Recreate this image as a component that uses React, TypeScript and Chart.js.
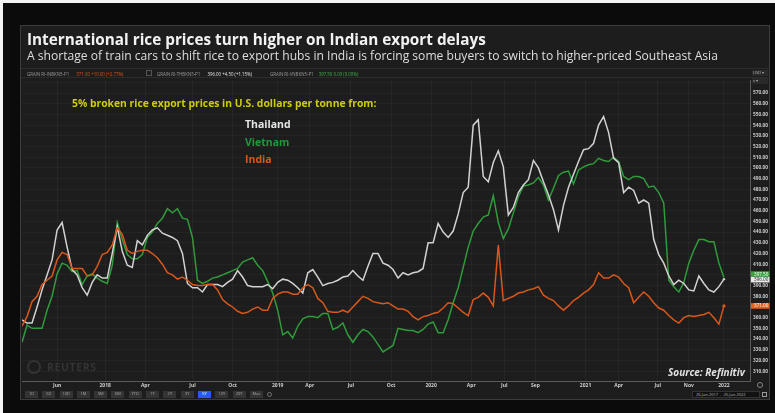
import React, { useEffect, useRef } from 'react';
import { Chart, registerables } from 'chart.js';

Chart.register(...registerables);

// Weekly-ish sampled prices (USD/tonne), Jan 2017 -> Jan 2022, index-based axis
const THAILAND: number[] = [
  358, 355, 355, 370, 386, 400, 414, 442, 449, 426,
  405, 400, 388, 381, 393, 400, 397, 397, 420, 445,
  422, 409, 407, 432, 428, 437, 442, 444, 439, 437,
  435, 432, 420, 392, 388, 388, 384, 391, 391, 391,
  389, 393, 396, 404, 398, 390, 389, 389, 389, 391,
  387, 393, 396, 395, 392, 388, 383, 402, 405, 398,
  390, 392, 393, 395, 398, 399, 404, 399, 395, 408,
  420, 420, 411, 409, 405, 397, 402, 400, 402, 403,
  406, 430, 430, 448, 440, 435, 441, 457, 477, 482,
  540, 545, 492, 487, 505, 516, 501, 456, 463, 477,
  484, 489, 507, 500, 487, 475, 461, 442, 465, 482,
  494, 506, 517, 518, 523, 540, 548, 533, 509, 505,
  477, 482, 479, 467, 470, 467, 433, 419, 411, 399,
  391, 395, 392, 386, 385, 399, 392, 386, 384, 389,
  396,
];

const VIETNAM: number[] = [
  337, 353, 350, 350, 350, 367, 380, 401, 411, 409,
  403, 404, 391, 399, 401, 397, 394, 392, 409, 449,
  433, 419, 415, 415, 419, 435, 440, 448, 453, 462,
  458, 462, 453, 452, 435, 395, 392, 394, 397, 398,
  400, 402, 404, 406, 412, 414, 416, 409, 404, 394,
  383, 367, 344, 347, 341, 352, 359, 361, 361, 360,
  364, 364, 349, 351, 355, 344, 337, 344, 349, 347,
  342, 335, 328, 331, 334, 350, 349, 348, 348, 346,
  349, 354, 356, 346, 346, 358, 374, 388, 407, 426,
  441, 448, 454, 456, 474, 449, 434, 443, 458, 473,
  483, 484, 486, 491, 484, 470, 481, 493, 496, 497,
  485, 498, 501, 503, 504, 509, 507, 506, 510, 506,
  492, 489, 492, 492, 490, 482, 483, 477, 467, 395,
  389, 384, 393, 411, 423, 433, 433, 431, 431, 411,
  397.5,
];

const INDIA: number[] = [
  352, 361, 375, 380, 391, 395, 399, 414, 421, 419,
  406, 406, 406, 399, 400, 408, 419, 421, 428, 444,
  438, 423, 420, 422, 423, 423, 420, 416, 410, 402,
  400, 396, 398, 395, 391, 390, 390, 391, 391, 386,
  377, 373, 370, 366, 364, 365, 368, 370, 367, 367,
  378, 382, 384, 384, 382, 382, 388, 391, 388, 378,
  374, 366, 365, 365, 367, 365, 370, 375, 380, 378,
  375, 374, 373, 374, 371, 368, 368, 366, 361, 358,
  361, 362, 364, 365, 369, 374, 373, 369, 365, 362,
  377, 379, 383, 379, 371, 428, 376, 378, 380, 383,
  384, 386, 387, 389, 381, 378, 376, 371, 367, 371,
  376, 379, 383, 386, 391, 402, 397, 397, 400, 398,
  392, 388, 374, 379, 384, 380, 374, 369, 367, 362,
  358, 355, 360, 362, 361, 362, 363, 365, 360, 354,
  371,
];

const X_TICK_POS: number[] = [7, 16.6, 24.6, 34, 42, 51, 57.4, 65.6, 73.6, 81.6, 89.6, 96.2, 102.4, 112.4, 119, 126.8, 133, 140];
const X_TICK_LABELS: string[] = ['Jun', '2018', 'Apr', 'Jul', 'Oct', '2019', 'Apr', 'Jul', 'Oct', '2020', 'Apr', 'Jul', 'Sep', '2021', 'Apr', 'Jul', 'Nov', '2022'];

const SERIES_NAMES: string[] = ['India', 'Thailand', 'Vietnam'];
const LAST_VALUES: number[] = [371.0, 396.0, 397.5];
const CHANGES: string[] = ['+10.00 (+2.77%)', '+4.50 (+1.15%)', '0.00 (0.00%)'];
const RICS: string[] = ['GRAIN RI-INBKN5-P1', 'GRAIN RI-THBKN5-P1', 'GRAIN RI-VNBKN5-P1'];

const RANGE_BUTTONS: string[] = ['1D', '5D', '10D', '1M', '3M', '6M', 'YTD', '1Y', '2Y', '3Y', '5Y', '10Y', '20Y', 'Max'];

const FONT = '"Open Sans", "Noto Sans", sans-serif';
const C_TH = '#d2d2d2';
const C_VN = '#2f9b3b';
const C_IN = '#d9571b';

const pts = (vals: number[]) => vals.map((v, i) => ({ x: i, y: v }));
const lastRadius = (vals: number[], r: number) => vals.map((_, i) => (i === vals.length - 1 ? r : 0));

export default function App() {
  const ref = useRef<HTMLCanvasElement | null>(null);

  useEffect(() => {
    if (!ref.current) return;
    const boxPlugin = {
      id: 'lastBoxes',
      afterDraw(chart: any) {
        const { ctx, chartArea, scales } = chart;
        const y = scales.y;
        const items = [
          { v: LAST_VALUES[2], off: -3.5, bg: '#3f9f3f', fg: '#ffffff' },
          { v: LAST_VALUES[1], off: 0.5, bg: '#e8e8e8', fg: '#222222' },
          { v: LAST_VALUES[0], off: 0, bg: '#e8621c', fg: '#ffffff' },
        ];
        ctx.save();
        items.forEach((it) => {
          const cy = y.getPixelForValue(it.v) + it.off;
          ctx.fillStyle = it.bg;
          ctx.fillRect(chartArea.right + 1, cy - 2.8, 18.5, 5.6);
          ctx.fillStyle = it.fg;
          ctx.font = `4.6px ${FONT}`;
          ctx.textBaseline = 'middle';
          ctx.textAlign = 'left';
          ctx.fillText(it.v.toFixed(2), chartArea.right + 4, cy + 0.2);
        });
        ctx.restore();
      },
    };

    const chart = new Chart(ref.current, {
      type: 'line',
      data: {
        datasets: [
          {
            label: SERIES_NAMES[0],
            data: pts(INDIA),
            borderColor: C_IN,
            backgroundColor: C_IN,
            borderWidth: 1.5,
            pointRadius: lastRadius(INDIA, 1.6),
            pointBorderWidth: 0,
            tension: 0,
          },
          {
            label: SERIES_NAMES[1],
            data: pts(THAILAND),
            borderColor: C_TH,
            backgroundColor: C_TH,
            borderWidth: 1.5,
            pointRadius: lastRadius(THAILAND, 1.2),
            pointBorderWidth: 0,
            tension: 0,
          },
          {
            label: SERIES_NAMES[2],
            data: pts(VIETNAM),
            borderColor: C_VN,
            backgroundColor: C_VN,
            borderWidth: 1.5,
            pointRadius: 0,
            tension: 0,
          },
        ],
      },
      options: {
        animation: false,
        responsive: false,
        maintainAspectRatio: false,
        layout: { padding: { left: 22, top: 80, right: 5, bottom: 23 } },
        plugins: { legend: { display: false }, tooltip: { enabled: false }, title: { display: false } },
        scales: {
          x: {
            type: 'linear',
            min: 0,
            max: 145.2,
            grid: { color: 'rgba(255,255,255,0.04)', drawTicks: false },
            border: { color: '#5a5a5a', width: 1 },
            afterBuildTicks: (s: any) => {
              s.ticks = X_TICK_POS.map((v) => ({ value: v }));
            },
            afterFit: (s: any) => {
              s.height = 9;
            },
            ticks: {
              autoSkip: false,
              maxRotation: 0,
              padding: 1.5,
              color: '#cfcfcf',
              font: { size: 5, family: FONT, weight: 'bold' },
              callback: (_v: any, idx: number) => X_TICK_LABELS[idx],
            },
          },
          y: {
            position: 'right',
            min: 300.8,
            max: 582.2,
            grid: { color: 'rgba(255,255,255,0.035)', drawTicks: false },
            border: { color: '#5a5a5a', width: 1 },
            afterFit: (s: any) => {
              s.width = 20;
            },
            ticks: {
              stepSize: 10,
              includeBounds: false,
              padding: 3,
              color: '#c8c8c8',
              font: { size: 4.8, family: FONT, weight: 'bold' },
              callback: (v: any) => (v < 310 || v > 570 ? '' : Number(v).toFixed(2)),
            },
          },
        },
      },
      plugins: [boxPlugin],
    } as any);
    return () => chart.destroy();
  }, []);

  const abs = (o: any) => ({ position: 'absolute' as const, whiteSpace: 'nowrap' as const, ...o });

  return (
    <div style={abs({ left: 0, top: 0, width: 775, height: 413, background: '#f4f4f4', overflow: 'hidden', fontFamily: FONT })}>
      <div style={abs({ left: 3, top: 3, width: 772, height: 410, background: '#0b0b0b' })} />
      <div style={abs({ left: 20, top: 25, width: 750, height: 375, background: '#1d1d1d', border: '1px solid #3c3c3c', boxSizing: 'border-box' })} />
      {/* header strip */}
      <div style={abs({ left: 21, top: 68, width: 748, height: 10, borderTop: '1px solid #2c2c2c', borderBottom: '1px solid #2c2c2c', boxSizing: 'border-box' })} />
      <canvas ref={ref} width={775} height={413} style={abs({ left: 0, top: 0, width: 775, height: 413 })} />

      <div style={abs({ left: 27, top: 30, fontSize: 15.3, lineHeight: '18px', fontWeight: 700, color: '#f2f2f2' })}>
        International rice prices turn higher on Indian export delays
      </div>
      <div style={abs({ left: 27, top: 49, fontSize: 12.1, lineHeight: '14px', color: '#dedede' })}>
        A shortage of train cars to shift rice to export hubs in India is forcing some buyers to switch to higher-priced Southeast Asia
      </div>

      {/* quote strip */}
      <div style={abs({ left: 27, top: 70.5, fontSize: 4.4, lineHeight: '6px', color: '#9a9a9a' })}>
        {RICS[0]} <span style={{ color: C_IN, marginLeft: 6 }}>{LAST_VALUES[0].toFixed(2)} {CHANGES[0]}</span>
      </div>
      <div style={abs({ left: 146, top: 70, width: 6, height: 6, border: '1px solid #555', boxSizing: 'border-box' })} />
      <div style={abs({ left: 157, top: 70.5, fontSize: 4.4, lineHeight: '6px', color: '#9a9a9a' })}>
        {RICS[1]} <span style={{ color: '#e6e6e6', marginLeft: 6 }}>{LAST_VALUES[1].toFixed(2)} {CHANGES[1]}</span>
      </div>
      <div style={abs({ left: 270, top: 70.5, fontSize: 4.4, lineHeight: '6px', color: '#9a9a9a' })}>
        {RICS[2]} <span style={{ color: '#3fb24a', marginLeft: 4 }}>{LAST_VALUES[2].toFixed(2)} {CHANGES[2]}</span>
      </div>
      <div style={abs({ left: 752, top: 70, width: 15, height: 6, background: '#2a2a2a', fontSize: 4.2, lineHeight: '6px', color: '#aaa', paddingLeft: 1 })}>USD ▾</div>
      <div style={abs({ left: 752, top: 78, width: 15, height: 6, background: '#2a2a2a', fontSize: 4.2, lineHeight: '6px', color: '#aaa', paddingLeft: 1 })}>x ▾</div>

      {/* annotations */}
      <div style={abs({ left: 72, top: 96.5, fontSize: 10.35, lineHeight: '12px', fontWeight: 700, color: '#cdcd0a' })}>
        5% broken rice export prices in U.S. dollars per tonne from:
      </div>
      <div style={abs({ left: 245, top: 117.5, fontSize: 10.5, lineHeight: '12px', fontWeight: 700, color: '#e6e6e6' })}>Thailand</div>
      <div style={abs({ left: 245, top: 135.5, fontSize: 10.5, lineHeight: '12px', fontWeight: 700, color: '#1e9a3a' })}>Vietnam</div>
      <div style={abs({ left: 245, top: 152.5, fontSize: 10.5, lineHeight: '12px', fontWeight: 700, color: '#d65a18' })}>India</div>

      {/* watermark */}
      <div style={abs({ left: 27, top: 360, width: 14, height: 14, borderRadius: '50%', border: '2px solid #333', boxSizing: 'border-box' })} />
      <div style={abs({ left: 47, top: 361, fontSize: 10.5, lineHeight: '12px', fontWeight: 700, color: '#343434', letterSpacing: 0.6 })}>REUTERS</div>

      <div style={abs({ left: 668, top: 366, fontSize: 10, lineHeight: '12px', fontWeight: 700, fontStyle: 'italic', color: '#e2e2e2' })}>
        Source: Refinitiv
      </div>

      {/* bottom toolbar */}
      <div style={abs({ left: 25, top: 391, display: 'flex', gap: 4.3 })}>
        {RANGE_BUTTONS.map((b) => (
          <div key={b} style={{ width: 13, height: 6.5, background: b === '5Y' ? '#2a58f5' : '#343434', color: b === '5Y' ? '#fff' : '#a8a8a8', fontSize: 4, lineHeight: '6.5px', textAlign: 'center' }}>{b}</div>
        ))}
        <div style={{ width: 5, height: 5, marginTop: 0.7, borderRadius: '50%', border: '1px solid #777', boxSizing: 'border-box' }} />
      </div>
      <div style={abs({ left: 757, top: 382, width: 6, height: 6, borderRadius: '50%', border: '1px solid #888', boxSizing: 'border-box' })} />
      <div style={abs({ left: 692, top: 391, width: 68, height: 6.5, background: '#111', border: '1px solid #333', boxSizing: 'border-box', fontSize: 4, lineHeight: '5px', color: '#bbb', paddingLeft: 3 })}>
        26-Jan-2017&nbsp;&nbsp;-&nbsp;&nbsp;25-Jan-2022
      </div>
      <div style={abs({ left: 762, top: 391.5, width: 5, height: 5, border: '1px solid #999', boxSizing: 'border-box' })} />
    </div>
  );
}
